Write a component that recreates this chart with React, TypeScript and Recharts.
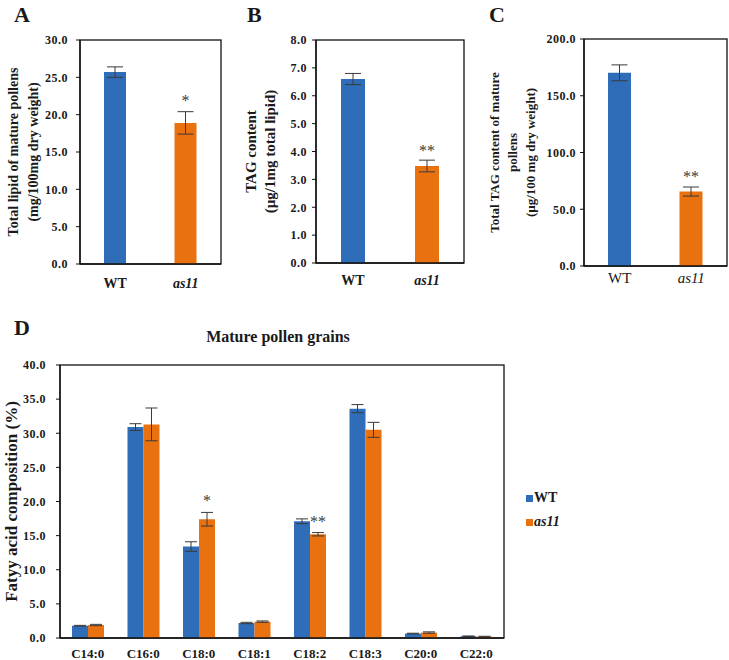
import React from "react";
import { Bar, BarChart, Cell, ErrorBar, LabelList, XAxis, YAxis, usePlotArea } from "recharts";

const FONT = '"Liberation Serif", "Times New Roman", serif';
const BLUE = "#2f6db8";
const ORANGE = "#ea7110";
const INK = "#1a1a1a";
const ERR = "#3a3a3a";
const AXIS = { stroke: "#111", strokeWidth: 1.3 };

// panels A-C: WT vs as11
const genotypes = ["WT", "as11"];
const lipidMean = [25.7, 18.9];
const lipidErr = [0.7, 1.5];
const lipidSig = ["", "*"];
const tagMean = [6.6, 3.48];
const tagErr = [0.2, 0.21];
const tagSig = ["", "**"];
const tagTotalMean = [170.2, 65.6];
const tagTotalErr = [7.0, 4.0];
const tagTotalSig = ["", "**"];

// panel D: fatty acid composition (%)
const fattyAcids = ["C14:0", "C16:0", "C18:0", "C18:1", "C18:2", "C18:3", "C20:0", "C22:0"];
const wtComp = [1.8, 30.9, 13.4, 2.2, 17.1, 33.6, 0.65, 0.25];
const wtCompErr = [0.05, 0.5, 0.7, 0.1, 0.35, 0.6, 0.05, 0.05];
const as11Comp = [1.9, 31.3, 17.4, 2.4, 15.2, 30.5, 0.8, 0.2];
const as11CompErr = [0.1, 2.4, 1.0, 0.1, 0.25, 1.1, 0.1, 0.05];
const compSig = ["", "", "*", "", "**", "", "", ""];

const fmt = (v: number) => v.toFixed(1);

// plot boxes on the page: [left, top, right, bottom]
const boxA = [80, 40, 221, 264];
const boxB = [316, 40, 464, 263];
const boxC = [584, 39, 727, 266];
const boxD = [60, 365, 504, 638];

// frame around the plot area
function PlotFrame() {
  const area = usePlotArea();
  if (!area) return null;
  return (
    <rect
      x={area.x}
      y={area.y}
      width={area.width}
      height={area.height}
      fill="none"
      stroke="#111"
      strokeWidth={1.3}
    />
  );
}

function sigLabel(rows: any[], meanKey: string, errKey: string, gap: number) {
  return (p: any) => {
    const vb = p.viewBox ?? {};
    const x = Number(p.x ?? vb.x);
    const y = Number(p.y ?? vb.y);
    const w = Number(p.width ?? vb.width);
    const h = Number(p.height ?? vb.height);
    const row = rows[p.index];
    if (!p.value || !row) return null;
    const perUnit = h / row[meanKey];
    const top = y - row[errKey] * perUnit;
    return (
      <text x={x + w / 2} y={top - gap} textAnchor="middle" fontFamily={FONT} fontSize={16} fill={ERR}>
        {p.value}
      </text>
    );
  };
}

function GenoTick({ x, y, payload, bold, size }: any) {
  const italic = payload.value === "as11";
  return (
    <text
      x={x}
      y={y}
      dy="0.71em"
      textAnchor="middle"
      fontFamily={FONT}
      fontSize={size}
      fontWeight={bold ? "bold" : "normal"}
      fontStyle={italic ? "italic" : "normal"}
      fill={INK}
    >
      {payload.value}
    </text>
  );
}

function yTitle(lines: string[], xs: number[], size: number) {
  return (p: any) => {
    const vb = p.viewBox ?? {};
    const cy = Number(vb.y) + Number(vb.height) / 2;
    return (
      <g>
        {lines.map((t, i) => (
          <text
            key={i}
            x={xs[i]}
            y={cy}
            transform={`rotate(-90, ${xs[i]}, ${cy})`}
            textAnchor="middle"
            fontFamily={FONT}
            fontWeight="bold"
            fontSize={size}
            fill={INK}
          >
            {t}
          </text>
        ))}
      </g>
    );
  };
}

type PanelProps = {
  left: number;
  width: number;
  box: number[];
  mean: number[];
  err: number[];
  sig: string[];
  domain: [number, number];
  ticks: number[];
  titleLines: string[];
  titleXs: number[];
  titleSize: number;
  tickBold: boolean;
  tickSize: number;
  labelBaseline: number;
  barSize: number;
  yGap: number;
  sigGap: number;
};

function GenoPanel(pp: PanelProps) {
  const rows = genotypes.map((name, i) => ({
    name,
    mean: pp.mean[i],
    err: pp.err[i],
    sig: pp.sig[i],
  }));
  const H = 300;
  const [bl, bt, br, bb] = pp.box;
  const capH = 0.71 * pp.tickSize;
  return (
    <div style={{ position: "absolute", left: pp.left, top: 0 }}>
      <BarChart
        width={pp.width}
        height={H}
        data={rows}
        margin={{ top: bt, right: pp.left + pp.width - br, bottom: 0, left: 0 }}
      >
        <XAxis
          dataKey="name"
          height={H - bb}
          tickLine={false}
          tickSize={0}
          tickMargin={pp.labelBaseline - bb - capH}
          axisLine={AXIS}
          tick={<GenoTick bold={pp.tickBold} size={pp.tickSize} />}
          interval={0}
        />
        <YAxis
          width={bl - pp.left}
          domain={pp.domain}
          ticks={pp.ticks}
          tickFormatter={fmt}
          tickSize={4}
          tickMargin={pp.yGap}
          tickLine={{ stroke: "#111" }}
          axisLine={AXIS}
          tick={{ fontFamily: FONT, fontWeight: "bold", fontSize: 12, fill: INK, letterSpacing: 0.5 }}
          label={{ content: yTitle(pp.titleLines, pp.titleXs, pp.titleSize) }}
        />
        <PlotFrame />
        <Bar dataKey="mean" barSize={pp.barSize} isAnimationActive={false}>
          {rows.map((r, i) => (
            <Cell key={r.name} fill={i === 0 ? BLUE : ORANGE} />
          ))}
          <ErrorBar dataKey="err" width={8} stroke={ERR} strokeWidth={1} direction="y" />
          <LabelList dataKey="sig" content={sigLabel(rows, "mean", "err", pp.sigGap)} />
        </Bar>
      </BarChart>
    </div>
  );
}

function CompLegend() {
  const item = (color: string, label: string, italic: boolean) => (
    <div style={{ display: "flex", alignItems: "center", height: 24 }}>
      <span style={{ display: "inline-block", width: 7, height: 7, background: color, marginRight: 1 }} />
      <span
        style={{
          fontFamily: FONT,
          fontWeight: "bold",
          fontStyle: italic ? "italic" : "normal",
          fontSize: 14,
          color: INK,
        }}
      >
        {label}
      </span>
    </div>
  );
  return (
    <div style={{ position: "absolute", left: 526, top: 486 }}>
      {item(BLUE, "WT", false)}
      {item(ORANGE, "as11", true)}
    </div>
  );
}

function CompositionPanel() {
  const rows = fattyAcids.map((name, i) => ({
    name,
    wt: wtComp[i],
    wtErr: wtCompErr[i],
    as11: as11Comp[i],
    as11Err: as11CompErr[i],
    sig: compSig[i],
  }));
  const top = 310;
  const [bl, bt, br, bb] = boxD;
  return (
    <div style={{ position: "absolute", left: 0, top }}>
      <BarChart
        width={729}
        height={350}
        data={rows}
        barGap={0}
        margin={{ top: bt - top, right: 729 - br, bottom: 0, left: 0 }}
      >
        <XAxis
          dataKey="name"
          height={top + 350 - bb}
          tickLine={false}
          tickSize={0}
          tickMargin={11}
          interval={0}
          axisLine={AXIS}
          tick={{ fontFamily: FONT, fontWeight: "bold", fontSize: 13, fill: INK }}
        />
        <YAxis
          width={bl}
          domain={[0, 40]}
          ticks={[0, 5, 10, 15, 20, 25, 30, 35, 40]}
          tickFormatter={fmt}
          tickSize={4}
          tickMargin={10}
          tickLine={{ stroke: "#111" }}
          axisLine={AXIS}
          tick={{ fontFamily: FONT, fontWeight: "bold", fontSize: 12, fill: INK, letterSpacing: 0.5 }}
          label={{ content: yTitle(["Fatyy acid composition (%)"], [17], 17) }}
        />
        <PlotFrame />
        <Bar dataKey="wt" fill={BLUE} barSize={16} isAnimationActive={false}>
          <ErrorBar dataKey="wtErr" width={6} stroke={ERR} strokeWidth={1} direction="y" />
        </Bar>
        <Bar dataKey="as11" fill={ORANGE} barSize={16} isAnimationActive={false}>
          <ErrorBar dataKey="as11Err" width={6} stroke={ERR} strokeWidth={1} direction="y" />
          <LabelList dataKey="sig" content={sigLabel(rows, "as11", "as11Err", 6)} />
        </Bar>
      </BarChart>
    </div>
  );
}

export default function App() {
  return (
    <div style={{ position: "absolute", left: 0, top: 0, width: 729, height: 660, background: "#fff" }}>
      <GenoPanel
        left={0}
        width={240}
        box={boxA}
        mean={lipidMean}
        err={lipidErr}
        sig={lipidSig}
        domain={[0, 30]}
        ticks={[0, 5, 10, 15, 20, 25, 30]}
        titleLines={["Total lipid of mature pollens", "(mg/100mg dry weight)"]}
        titleXs={[18, 38]}
        titleSize={14}
        tickBold
        tickSize={14}
        labelBaseline={288}
        barSize={22}
        yGap={8}
        sigGap={6}
      />
      <GenoPanel
        left={240}
        width={240}
        box={boxB}
        mean={tagMean}
        err={tagErr}
        sig={tagSig}
        domain={[0, 8]}
        ticks={[0, 1, 2, 3, 4, 5, 6, 7, 8]}
        titleLines={["TAG content", "(\u00b5g/1mg total lipid)"]}
        titleXs={[16, 35]}
        titleSize={15}
        tickBold
        tickSize={14}
        labelBaseline={285}
        barSize={24}
        yGap={5}
        sigGap={4}
      />
      <GenoPanel
        left={480}
        width={249}
        box={boxC}
        mean={tagTotalMean}
        err={tagTotalErr}
        sig={tagTotalSig}
        domain={[0, 200]}
        ticks={[0, 50, 100, 150, 200]}
        titleLines={["Total TAG content of mature", "pollens", "(\u00b5g/100 mg dry weight)"]}
        titleXs={[19, 37, 55]}
        titleSize={13}
        tickBold={false}
        tickSize={15}
        labelBaseline={283}
        barSize={23}
        yGap={4}
        sigGap={5}
      />
      <CompositionPanel />
      <CompLegend />
      <svg
        width={729}
        height={660}
        style={{ position: "absolute", left: 0, top: 0, pointerEvents: "none" }}
      >
        <g fontFamily={FONT} fontWeight="bold" fill={INK}>
          <text x={14} y={22} fontSize={22}>A</text>
          <text x={247} y={22} fontSize={22}>B</text>
          <text x={489} y={22} fontSize={22}>C</text>
          <text x={14} y={335} fontSize={22}>D</text>
          <text x={278} y={342} fontSize={16} textAnchor="middle">Mature pollen grains</text>
        </g>
      </svg>
    </div>
  );
}
